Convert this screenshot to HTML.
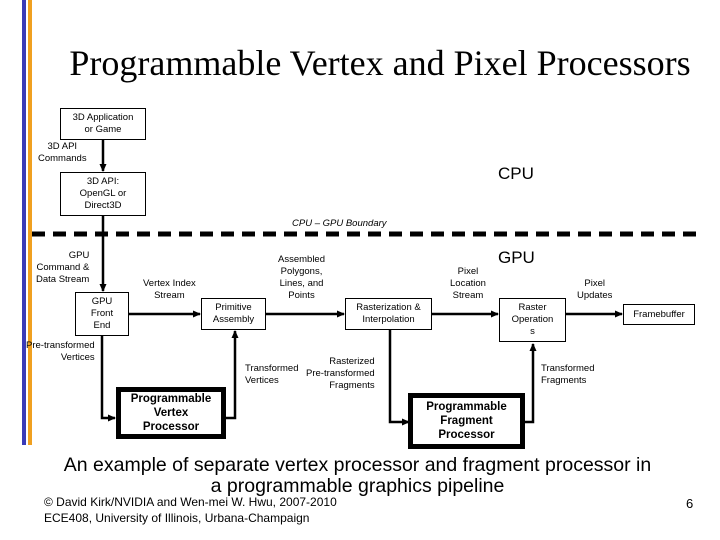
<!DOCTYPE html>
<html><head><style>
body{margin:0;width:720px;height:540px;background:#fff;position:relative;overflow:hidden;font-family:"Liberation Sans",sans-serif}
.t{position:absolute;font-size:9.5px;text-align:center;line-height:12px;white-space:nowrap}
.b{position:absolute;border:1px solid #000;box-sizing:border-box;display:flex;align-items:center;justify-content:center;text-align:center;font-size:9.5px;line-height:12px}
.p{position:absolute;border:5px solid #000;box-sizing:border-box;display:flex;align-items:center;justify-content:center;text-align:center;font-size:11.5px;font-weight:bold;line-height:14px}
</style></head><body>
<div style="position:absolute;left:22px;top:0;width:4px;height:445px;background:#3a3ab8"></div>
<div style="position:absolute;left:28px;top:0;width:4px;height:445px;background:#f0a020"></div>
<div style="position:absolute;left:0;width:760px;top:42px;text-align:center;font-family:'Liberation Serif',serif;font-size:36px">Programmable Vertex and Pixel Processors</div>
<svg style="position:absolute;left:0;top:0" width="720" height="540">
<defs><marker id="a" markerUnits="userSpaceOnUse" markerWidth="8" markerHeight="8" refX="7" refY="4" orient="auto"><path d="M0,0.5L8,4L0,7.5z"/></marker></defs>
<g stroke="#000" stroke-width="2.5" fill="none" marker-end="url(#a)">
<path d="M103 140V171"/><path d="M103 216V291"/>
<path d="M129 314H200"/><path d="M266 314H344"/><path d="M432 314H498"/><path d="M566 314H622"/>
<path d="M102 336V418H115"/><path d="M226 418H235V331"/>
<path d="M390 330V422H409"/><path d="M525 422H533V344"/>
</g>
<line x1="32" y1="234" x2="700" y2="234" stroke="#000" stroke-width="5" stroke-dasharray="13,8"/>
</svg>
<div class="b" style="left:60px;top:108px;width:86px;height:32px">3D Application<br>or Game</div>
<div class="b" style="left:60px;top:172px;width:86px;height:44px">3D API:<br>OpenGL or<br>Direct3D</div>
<div class="b" style="left:75px;top:292px;width:54px;height:44px">GPU<br>Front<br>End</div>
<div class="b" style="left:201px;top:298px;width:65px;height:32px">Primitive<br>Assembly</div>
<div class="b" style="left:345px;top:298px;width:87px;height:32px">Rasterization &amp;<br>Interpolation</div>
<div class="b" style="left:499px;top:298px;width:67px;height:44px">Raster<br>Operation<br>s</div>
<div class="b" style="left:623px;top:304px;width:72px;height:21px">Framebuffer</div>
<div class="p" style="left:116px;top:387px;width:110px;height:52px">Programmable<br>Vertex<br>Processor</div>
<div class="p" style="left:408px;top:393px;width:117px;height:56px">Programmable<br>Fragment<br>Processor</div>
<div class="t" style="left:38px;top:141px">3D API<br>Commands</div>
<div class="t" style="left:36px;top:250px;text-align:right">GPU<br>Command &amp;<br>Data Stream</div>
<div class="t" style="left:26px;top:340px;text-align:right">Pre-transformed<br>Vertices</div>
<div class="t" style="left:143px;top:278px">Vertex Index<br>Stream</div>
<div class="t" style="left:278px;top:254px">Assembled<br>Polygons,<br>Lines, and<br>Points</div>
<div class="t" style="left:245px;top:363px;text-align:left">Transformed<br>Vertices</div>
<div class="t" style="left:306px;top:356px;text-align:right">Rasterized<br>Pre-transformed<br>Fragments</div>
<div class="t" style="left:450px;top:266px">Pixel<br>Location<br>Stream</div>
<div class="t" style="left:577px;top:278px">Pixel<br>Updates</div>
<div class="t" style="left:541px;top:363px;text-align:left">Transformed<br>Fragments</div>
<div class="t" style="left:292px;top:218px;font-style:italic">CPU – GPU Boundary</div>
<div style="position:absolute;left:498px;top:164px;font-size:17px">CPU</div>
<div style="position:absolute;left:498px;top:248px;font-size:17px">GPU</div>
<div style="position:absolute;left:0;width:715px;top:455px;text-align:center;font-size:19.5px;line-height:21px">An example of separate vertex processor and fragment processor in<br>a programmable graphics pipeline</div>
<div style="position:absolute;left:44px;top:494px;font-size:12px;line-height:16px">© David Kirk/NVIDIA and Wen-mei W. Hwu, 2007-2010<br>ECE408, University of Illinois, Urbana-Champaign</div>
<div style="position:absolute;left:686px;top:496px;font-size:13px">6</div>
</body></html>
